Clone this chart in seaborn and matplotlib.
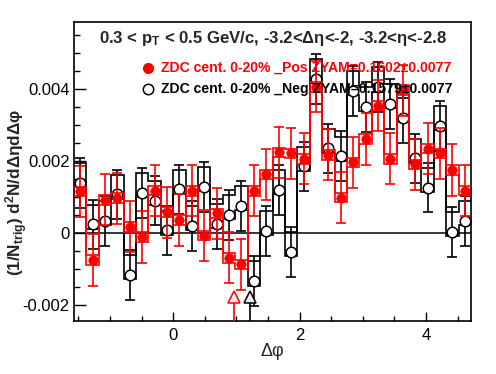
import numpy as np
import pandas as pd
import matplotlib
matplotlib.use("Agg")
import matplotlib.pyplot as plt
import seaborn as sns

# ---------------- data ----------------
n_bins = 32
dphi_lo, dphi_hi = -np.pi / 2, 3 * np.pi / 2

pos_vals = [0.00116, -0.00075, 0.00092, 0.00097, 0.00017, -0.00011, 0.00118, 0.00058,
            0.00036, 0.00117, -0.00007, 0.00055, -0.00069, -0.00087, 0.00117, 0.00163,
            0.00224, 0.00221, 0.00206, 0.00406, 0.00217, 0.00098, 0.00196, 0.00261,
            0.00354, 0.00206, 0.00397, 0.00191, 0.00234, 0.00221, 0.00175, 0.00118]
neg_vals = [0.00139, 0.00024, 0.00034, 0.00107, -0.00117, 0.00111, 0.00090, 0.00007,
            0.00121, 0.00019, 0.00128, 0.00025, 0.00050, 0.00075, -0.00134, 0.00006,
            0.00119, -0.00053, 0.00185, 0.00428, 0.00235, 0.00213, 0.00395, 0.00350,
            0.00405, 0.00359, 0.00319, 0.00207, 0.00126, 0.00298, 0.00003, 0.00033]
pos_stat = 0.00071
neg_stat = 0.00069
pos_sys = 0.00013          # symmetric box half-height (red)
neg_sys_up = 0.00055       # box extends above the point (black)
neg_sys_dn = 0.00012       # box extends below the point (black)

zyam_pos_x, zyam_neg_x, zyam_y = 0.955, 1.21, -0.00178

title = "0.3 < p$_{\\mathbf{T}}$ < 0.5 GeV/c, -3.2<\u0394\u03b7<-2, -3.2<\u03b7<-2.8"
label_pos = "ZDC cent. 0-20% _Pos ZYAM=0.1602\u00b10.0077"
label_neg = "ZDC cent. 0-20% _Neg ZYAM=0.1579\u00b10.0077"
xlabel = "\u0394\u03c6"
ylabel = "(1/N$_{\\mathbf{trig}}$) d$^{\\mathbf{2}}$N/d\u0394\u03b7d\u0394\u03c6"
xticks = [0, 2, 4]
yticks = [-0.002, 0, 0.002, 0.004]
ytick_labels = ["-0.002", "0", "0.002", "0.004"]

# ---------------- style ----------------
sns.set_theme(style="ticks")
plt.rcParams["font.family"] = ["Liberation Sans", "DejaVu Sans"]
plt.rcParams["mathtext.fontset"] = "custom"
plt.rcParams["mathtext.rm"] = "Liberation Sans"
plt.rcParams["mathtext.bf"] = "Liberation Sans:bold"
plt.rcParams["mathtext.it"] = "Liberation Sans:italic"

W, H = 496, 374
fig = plt.figure(figsize=(W / 100, H / 100), dpi=100)
L, R, T, B = 74, 471, 22, 321
ax = fig.add_axes([L / W, (H - B) / H, (R - L) / W, (B - T) / H])

edges = np.linspace(dphi_lo, dphi_hi, n_bins + 1)
centers = 0.5 * (edges[:-1] + edges[1:])
pos = np.array(pos_vals)
neg = np.array(neg_vals)

df = pd.DataFrame({
    "dphi": np.concatenate([centers, centers]),
    "val": np.concatenate([neg, pos]),
    "series": ["Neg"] * n_bins + ["Pos"] * n_bins,
})

lw = 1.2
# black: systematic outlines, stat error bars, open markers
ax.stairs(neg + neg_sys_up, edges, baseline=None, color="black", lw=lw, zorder=2)
ax.stairs(neg - neg_sys_dn, edges, baseline=None, color="black", lw=lw, zorder=2)
ax.errorbar(centers, neg, yerr=neg_stat, fmt="none", ecolor="black", elinewidth=lw,
            capsize=3.6, capthick=lw, zorder=3)
sns.scatterplot(data=df[df.series == "Neg"], x="dphi", y="val", ax=ax, marker="o",
                s=58, facecolor="white", edgecolor="black", linewidth=1.1, zorder=4,
                legend=False)

# red: systematic outlines, stat error bars, filled markers
ax.stairs(pos + pos_sys, edges, baseline=None, color="red", lw=lw, zorder=5)
ax.stairs(pos - pos_sys, edges, baseline=None, color="red", lw=lw, zorder=5)
ax.errorbar(centers, pos, yerr=pos_stat, fmt="none", ecolor="red", elinewidth=lw,
            capsize=3.6, capthick=lw, zorder=6)
sns.scatterplot(data=df[df.series == "Pos"], x="dphi", y="val", ax=ax, marker="o",
                s=46, color="red", edgecolor="red", linewidth=0.5, zorder=7,
                legend=False)

# ZYAM markers
ax.vlines([zyam_pos_x], -0.01, zyam_y - 0.00014, color="red", lw=lw, zorder=6)
ax.vlines([zyam_neg_x], -0.01, zyam_y - 0.00014, color="black", lw=lw, zorder=6)
ax.plot([zyam_pos_x], [zyam_y], marker="^", ms=9, mfc="#eeeeee", mec="red", mew=1.1,
        ls="none", zorder=8)
ax.plot([zyam_neg_x], [zyam_y], marker="^", ms=9, mfc="#eeeeee", mec="black", mew=1.1,
        ls="none", zorder=8)

ax.axhline(0, color="black", lw=1.1, zorder=1)

ax.set_xlim(dphi_lo, dphi_hi)
ax.set_ylim(-0.002444, 0.005861)
ax.set_xticks(xticks)
ax.set_xticks(np.arange(-1.5, 4.75, 0.5), minor=True)
ax.set_yticks(yticks)
ax.set_yticklabels(ytick_labels)
ax.set_yticks(np.arange(-0.002, 0.0059, 0.0005), minor=True)
ax.tick_params(axis="both", which="both", direction="in", colors="black",
               labelsize=12, width=1.0, right=False, top=False)
ax.tick_params(axis="y", which="major", length=8.6, pad=3)
ax.tick_params(axis="y", which="minor", length=4.3)
ax.tick_params(axis="x", which="major", length=6.3, pad=5)
ax.tick_params(axis="x", which="minor", length=3.6)
for s in ax.spines.values():
    s.set_color("black")
    s.set_linewidth(1.2)
ax.set_xlabel("")
ax.set_ylabel("")

# texts
fig.text(99 / W, 1 - 43 / H, title, fontsize=12.1, fontweight="bold",
         ha="left", va="baseline", zorder=10)
fig.text(161 / W, 1 - 68 / H, label_pos, fontsize=10.1, fontweight="bold",
         color="red", ha="left", va="center", zorder=10)
fig.text(161 / W, 1 - 89 / H, label_neg, fontsize=10.1, fontweight="bold",
         color="black", ha="left", va="center", zorder=10)
fig.lines.append(plt.Line2D([148 / W], [1 - 68 / H], transform=fig.transFigure,
                            marker="o", ms=7, color="red", ls="none"))
fig.lines.append(plt.Line2D([148 / W], [1 - 89 / H], transform=fig.transFigure,
                            marker="o", ms=7.5, mfc="white", mec="black", mew=1.1,
                            ls="none"))
fig.text(272 / W, 1 - 351 / H, xlabel, fontsize=13, ha="center", va="center")
fig.text(17 / W, 1 - 192 / H, ylabel, fontsize=12.3, fontweight="bold",
         rotation=90, ha="center", va="center")

fig.savefig("out.png", dpi=100, facecolor="white")
